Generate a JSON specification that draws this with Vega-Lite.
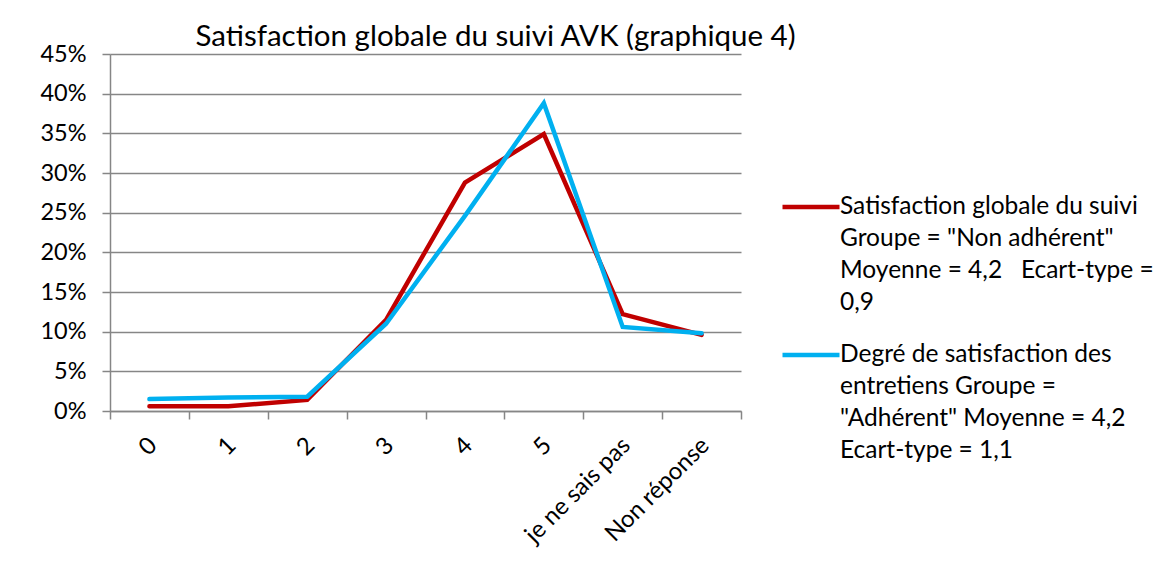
{
  "$schema": "https://vega.github.io/schema/vega-lite/v6.json",
  "autosize": {"type": "none"},
  "width": 631,
  "height": 357,
  "padding": {"left": 110, "top": 54, "right": 432, "bottom": 169},
  "background": "white",
  "title": {
    "text": "Satisfaction globale du suivi AVK (graphique 4)",
    "font": "Lato",
    "fontSize": 29.5,
    "fontWeight": "normal",
    "color": "#000000",
    "anchor": "middle",
    "frame": "group",
    "dx": 70,
    "dy": 16,
    "offset": 6
  },
  "data": {
    "values": [
      {"categorie": "0", "serie": "Satisfaction globale du suivi Groupe = \"Non adhérent\" Moyenne = 4,2   Ecart-type = 0,9", "pct": 0.006},
      {"categorie": "1", "serie": "Satisfaction globale du suivi Groupe = \"Non adhérent\" Moyenne = 4,2   Ecart-type = 0,9", "pct": 0.006},
      {"categorie": "2", "serie": "Satisfaction globale du suivi Groupe = \"Non adhérent\" Moyenne = 4,2   Ecart-type = 0,9", "pct": 0.014},
      {"categorie": "3", "serie": "Satisfaction globale du suivi Groupe = \"Non adhérent\" Moyenne = 4,2   Ecart-type = 0,9", "pct": 0.115},
      {"categorie": "4", "serie": "Satisfaction globale du suivi Groupe = \"Non adhérent\" Moyenne = 4,2   Ecart-type = 0,9", "pct": 0.288},
      {"categorie": "5", "serie": "Satisfaction globale du suivi Groupe = \"Non adhérent\" Moyenne = 4,2   Ecart-type = 0,9", "pct": 0.349},
      {"categorie": "je ne sais pas", "serie": "Satisfaction globale du suivi Groupe = \"Non adhérent\" Moyenne = 4,2   Ecart-type = 0,9", "pct": 0.122},
      {"categorie": "Non réponse", "serie": "Satisfaction globale du suivi Groupe = \"Non adhérent\" Moyenne = 4,2   Ecart-type = 0,9", "pct": 0.096},
      {"categorie": "0", "serie": "Degré de satisfaction des entretiens Groupe = \"Adhérent\" Moyenne = 4,2 Ecart-type = 1,1", "pct": 0.015},
      {"categorie": "1", "serie": "Degré de satisfaction des entretiens Groupe = \"Adhérent\" Moyenne = 4,2 Ecart-type = 1,1", "pct": 0.017},
      {"categorie": "2", "serie": "Degré de satisfaction des entretiens Groupe = \"Adhérent\" Moyenne = 4,2 Ecart-type = 1,1", "pct": 0.018},
      {"categorie": "3", "serie": "Degré de satisfaction des entretiens Groupe = \"Adhérent\" Moyenne = 4,2 Ecart-type = 1,1", "pct": 0.110},
      {"categorie": "4", "serie": "Degré de satisfaction des entretiens Groupe = \"Adhérent\" Moyenne = 4,2 Ecart-type = 1,1", "pct": 0.246},
      {"categorie": "5", "serie": "Degré de satisfaction des entretiens Groupe = \"Adhérent\" Moyenne = 4,2 Ecart-type = 1,1", "pct": 0.388},
      {"categorie": "je ne sais pas", "serie": "Degré de satisfaction des entretiens Groupe = \"Adhérent\" Moyenne = 4,2 Ecart-type = 1,1", "pct": 0.106},
      {"categorie": "Non réponse", "serie": "Degré de satisfaction des entretiens Groupe = \"Adhérent\" Moyenne = 4,2 Ecart-type = 1,1", "pct": 0.098}
    ]
  },
  "mark": {"type": "line", "strokeWidth": 4.5, "strokeCap": "round", "strokeJoin": "miter"},
  "encoding": {
    "x": {
      "field": "categorie",
      "type": "nominal",
      "sort": ["0", "1", "2", "3", "4", "5", "je ne sais pas", "Non réponse"],
      "scale": {"type": "band", "paddingInner": 0, "paddingOuter": 0},
      "axis": {
        "title": null,
        "tickBand": "extent",
        "labelAngle": -45,
        "labelAlign": "right",
        "labelBaseline": "top",
        "labelFontSize": 24,
        "labelPadding": 14,
        "labelOffset": -5,
        "grid": false
      }
    },
    "y": {
      "field": "pct",
      "type": "quantitative",
      "scale": {"domain": [0, 0.45], "nice": false},
      "axis": {
        "title": null,
        "format": ".0%",
        "values": [0, 0.05, 0.1, 0.15, 0.2, 0.25, 0.3, 0.35, 0.4, 0.45],
        "labelFontSize": 23.5,
        "labelPadding": 16,
        "grid": true
      }
    },
    "color": {
      "field": "serie",
      "type": "nominal",
      "scale": {
        "domain": [
          "Satisfaction globale du suivi Groupe = \"Non adhérent\" Moyenne = 4,2   Ecart-type = 0,9",
          "Degré de satisfaction des entretiens Groupe = \"Adhérent\" Moyenne = 4,2 Ecart-type = 1,1"
        ],
        "range": ["#C00000", "#00B0F0"]
      },
      "legend": {
        "title": null,
        "orient": "none",
        "legendX": 670,
        "legendY": 122,
        "symbolType": "stroke",
        "symbolSize": 3249,
        "symbolStrokeWidth": 4.5,
        "labelOffset": -2,
        "labelLimit": 500,
        "labelBaseline": "middle",
        "rowPadding": 9,
        "labelExpr": "indexof(datum.label, 'Non adh') >= 0 ? ['Satisfaction globale du suivi', 'Groupe = \"Non adhérent\"', 'Moyenne = 4,2\u00a0\u00a0\u00a0Ecart-type =', '0,9'] : ['Degré de satisfaction des', 'entretiens Groupe =', '\"Adhérent\" Moyenne = 4,2', 'Ecart-type = 1,1']"
      }
    }
  },
  "config": {
    "view": {"stroke": null},
    "font": "Lato",
    "axis": {
      "labelFont": "Lato",
      "labelColor": "#000000",
      "domainColor": "#868686",
      "domainWidth": 1.5,
      "tickColor": "#868686",
      "tickWidth": 1.5,
      "tickSize": 8,
      "gridColor": "#868686",
      "gridWidth": 1.5
    },
    "legend": {
      "labelFont": "Lato",
      "labelFontSize": 24.5,
      "labelColor": "#000000"
    },
    "style": {
      "guide-label": {"lineHeight": 32}
    }
  }
}
